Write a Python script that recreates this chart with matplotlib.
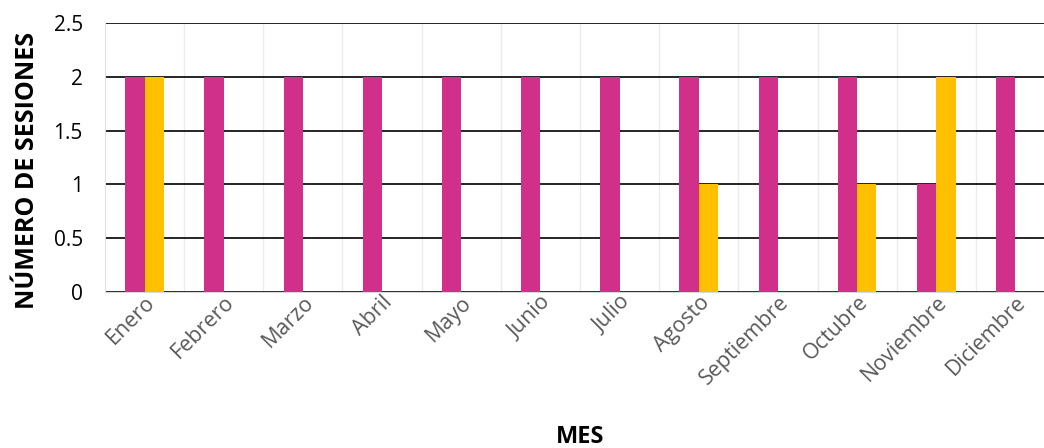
import numpy as np
import matplotlib.pyplot as plt

meses = ["Enero", "Febrero", "Marzo", "Abril", "Mayo", "Junio", "Julio",
         "Agosto", "Septiembre", "Octubre", "Noviembre", "Diciembre"]
serie_rosa = [2, 2, 2, 2, 2, 2, 2, 2, 2, 2, 1, 2]
serie_amarilla = [2, 0, 0, 0, 0, 0, 0, 1, 0, 1, 2, 0]

plt.rcParams['font.family'] = ['Open Sans', 'DejaVu Sans']

fig = plt.figure(figsize=(10.44, 4.48), dpi=100)
ax = fig.add_axes([105 / 1044, 156 / 448, 950 / 1044, 269 / 448])

x = np.arange(len(meses))
w = 0.245
ax.bar(x - w / 2, serie_rosa, w, color="#D0308A", zorder=3)
ax.bar(x + w / 2, serie_amarilla, w, color="#FFC000", zorder=3)

ax.set_xlim(-0.5, len(meses) - 0.5)
ax.set_ylim(0, 2.5)
ax.set_yticks([0, 0.5, 1, 1.5, 2, 2.5])
ax.set_yticklabels(["0", "0.5", "1", "1.5", "2", "2.5"])
ax.yaxis.grid(True, color="black", lw=1.2, zorder=0)
for b in np.arange(0.5, len(meses) - 0.5, 1):
    ax.axvline(b, color="#ebebeb", lw=1, zorder=0)

ax.set_xticks(x)
ax.set_xticklabels(meses, rotation=45, ha="right", rotation_mode="anchor",
                   color="#595959", fontsize=15.5)
ax.tick_params(axis="y", labelsize=15, colors="black", length=0, pad=16)
ax.tick_params(axis="x", length=0, pad=0)

for s in ["top", "right"]:
    ax.spines[s].set_visible(False)
ax.spines["left"].set_color("#e0e0e0")
ax.spines["bottom"].set_color("#d9d9d9")

ax.set_ylabel("NÚMERO DE SESIONES", fontsize=18, fontweight="bold")
ax.yaxis.set_label_coords(-65 / 950, (292 - 170) / 269)
ax.set_xlabel("MES", fontsize=17, fontweight="bold")
ax.xaxis.set_label_coords((580 - 105) / 950, -(437 - 292) / 269)
ax.xaxis.label.set_va("center")

fig.savefig("out.png", dpi=100)
